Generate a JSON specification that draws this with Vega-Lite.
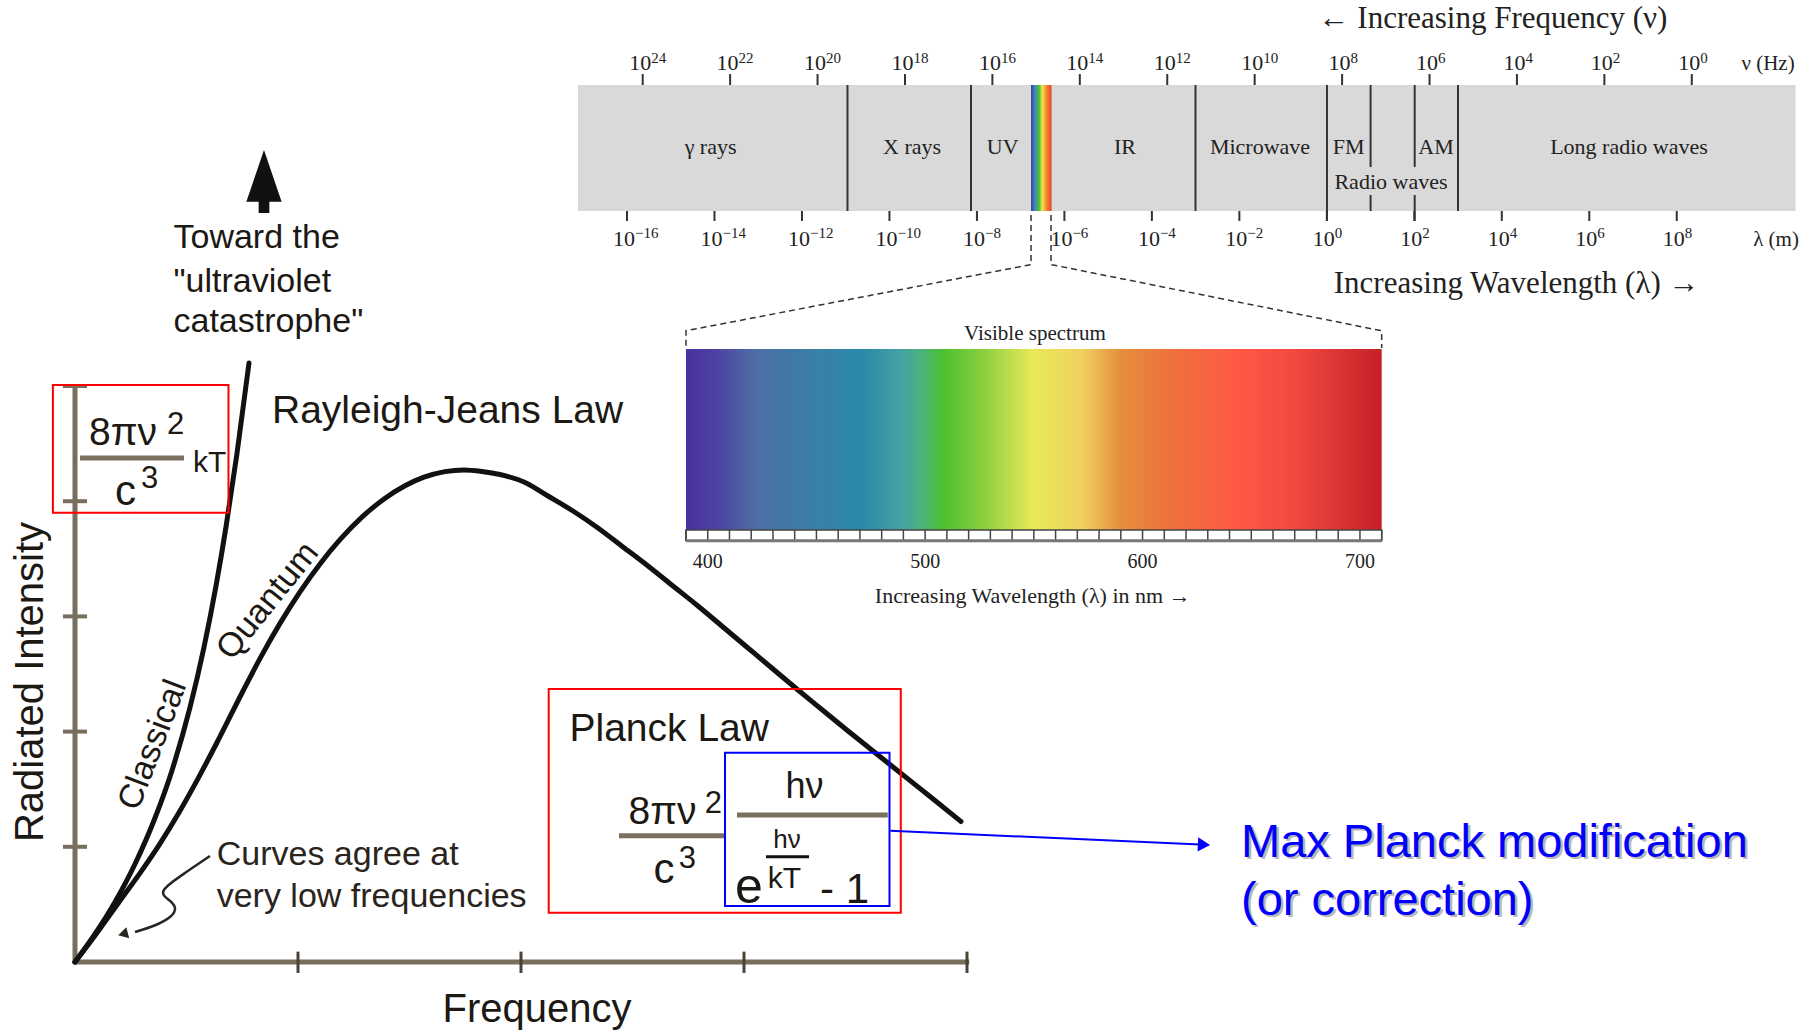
{
  "$schema": "https://vega.github.io/schema/vega-lite/v6.json",
  "width": 1820,
  "height": 1031,
  "autosize": {"type": "fit", "contains": "padding"},
  "padding": 0,
  "background": "white",
  "config": {"view": {"stroke": null}, "text": {"font": "Liberation Sans"}},
  "datasets": {
    "pAxes": [{"f": 0, "I": 0, "f2": 4.01, "I2": 0}, {"f": 0, "I": -0.02, "f2": 0, "I2": 5}],
    "pXTicks": [{"f": 1, "I": -0.095, "I2": 0.09}, {"f": 2, "I": -0.095, "I2": 0.09}, {"f": 3, "I": -0.095, "I2": 0.09}, {"f": 4, "I": -0.095, "I2": 0.09}],
    "pYTicks": [{"I": 1, "f": -0.054, "f2": 0.054}, {"I": 2, "f": -0.054, "f2": 0.054}, {"I": 3, "f": -0.054, "f2": 0.054}, {"I": 4, "f": -0.054, "f2": 0.054}, {"I": 5, "f": -0.054, "f2": 0.054}],
    "pCurves": [
      {"curve": "classical", "f": 0, "I": 0}, {"curve": "classical", "f": 0.0897, "I": 0.2431}, {"curve": "classical", "f": 0.1794, "I": 0.5208}, {"curve": "classical", "f": 0.2691, "I": 0.8507}, {"curve": "classical", "f": 0.3587, "I": 1.25}, {"curve": "classical", "f": 0.435, "I": 1.6632}, {"curve": "classical", "f": 0.5157, "I": 2.2101}, {"curve": "classical", "f": 0.5785, "I": 2.7326}, {"curve": "classical", "f": 0.6323, "I": 3.2639}, {"curve": "classical", "f": 0.6771, "I": 3.776}, {"curve": "classical", "f": 0.7265, "I": 4.4158}, {"curve": "classical", "f": 0.7803, "I": 5.1997},
      {"curve": "quantum", "f": 0, "I": 0}, {"curve": "quantum", "f": 0.1121, "I": 0.2891}, {"curve": "quantum", "f": 0.2018, "I": 0.5321}, {"curve": "quantum", "f": 0.2915, "I": 0.7717}, {"curve": "quantum", "f": 0.3812, "I": 1.0278}, {"curve": "quantum", "f": 0.4664, "I": 1.2977}, {"curve": "quantum", "f": 0.5516, "I": 1.592}, {"curve": "quantum", "f": 0.6368, "I": 1.9054}, {"curve": "quantum", "f": 0.7534, "I": 2.3524}, {"curve": "quantum", "f": 0.8386, "I": 2.6658}, {"curve": "quantum", "f": 0.9193, "I": 2.9392}, {"curve": "quantum", "f": 1.009, "I": 3.2135}, {"curve": "quantum", "f": 1.0987, "I": 3.4557}, {"curve": "quantum", "f": 1.1883, "I": 3.6658}, {"curve": "quantum", "f": 1.2915, "I": 3.8698}, {"curve": "quantum", "f": 1.3857, "I": 4.0191}, {"curve": "quantum", "f": 1.4798, "I": 4.1337}, {"curve": "quantum", "f": 1.565, "I": 4.2083}, {"curve": "quantum", "f": 1.6592, "I": 4.2569}, {"curve": "quantum", "f": 1.7444, "I": 4.2708}, {"curve": "quantum", "f": 1.8251, "I": 4.2578}, {"curve": "quantum", "f": 1.9058, "I": 4.2318}, {"curve": "quantum", "f": 2.0135, "I": 4.1667}, {"curve": "quantum", "f": 2.1211, "I": 4.0451}, {"curve": "quantum", "f": 2.2332, "I": 3.9149}, {"curve": "quantum", "f": 2.3453, "I": 3.7674}, {"curve": "quantum", "f": 2.4574, "I": 3.6024}, {"curve": "quantum", "f": 2.5695, "I": 3.4375}, {"curve": "quantum", "f": 2.6816, "I": 3.2639}, {"curve": "quantum", "f": 2.7937, "I": 3.0903}, {"curve": "quantum", "f": 2.9058, "I": 2.908}, {"curve": "quantum", "f": 3.0179, "I": 2.7257}, {"curve": "quantum", "f": 3.13, "I": 2.5434}, {"curve": "quantum", "f": 3.2422, "I": 2.3611}, {"curve": "quantum", "f": 3.3543, "I": 2.1832}, {"curve": "quantum", "f": 3.4664, "I": 2.0052}, {"curve": "quantum", "f": 3.5785, "I": 1.8316}, {"curve": "quantum", "f": 3.6906, "I": 1.658}, {"curve": "quantum", "f": 3.8341, "I": 1.4366}, {"curve": "quantum", "f": 3.9731, "I": 1.2196}
    ],
    "pRedBoxes": [{"f": -0.0991, "f2": 0.6883, "I": 5.0087, "I2": 3.9002}, {"f": 2.1242, "f2": 3.7031, "I": 2.3698, "I2": 0.428}],
    "pBlueBox": [{"f": 2.9148, "f2": 3.6525, "I": 1.8168, "I2": 0.4861}],
    "pFracLines": [{"f": 0.0224, "f2": 0.4888, "I": 4.375}, {"f": 2.4395, "f2": 2.9103, "I": 1.0964}, {"f": 2.9686, "f2": 3.6448, "I": 1.276}],
    "pSmallLine": [{"f": 3.0987, "f2": 3.2915, "I": 0.914}],
    "pArrowLine": [{"f": 3.6565, "I": 1.1398, "f2": 5.0448, "I2": 1.02}],
    "pArrowHead": [{"f": 5.0628, "I": 1.0182}],
    "pWiggle": [{"i": 0, "f": 0.6054, "I": 0.9201}, {"i": 1, "f": 0.4933, "I": 0.7726}, {"i": 2, "f": 0.3677, "I": 0.6076}, {"i": 3, "f": 0.426, "I": 0.5382}, {"i": 4, "f": 0.4574, "I": 0.4688}, {"i": 5, "f": 0.435, "I": 0.3906}, {"i": 6, "f": 0.3587, "I": 0.3125}, {"i": 7, "f": 0.2691, "I": 0.2604}],
    "pWiggleHead": [{"f": 0.2152, "I": 0.2431}],
    "pBigArrow": [{"f": 0.8475, "I": 6.7752}],
    "pText39": [{"f": 0.8834, "I": 4.6762, "t": "Rayleigh-Jeans Law"}, {"f": 2.2175, "I": 1.9184, "t": "Planck Law"}, {"f": 0.0628, "I": 4.4878, "t": "8πν"}, {"f": 2.482, "I": 1.1979, "t": "8πν"}],
    "pTextC": [{"f": 0.1794, "I": 3.967, "t": "c"}, {"f": 2.5946, "I": 0.686, "t": "c"}],
    "pText28": [{"f": 0.4126, "I": 4.5833, "t": "2"}, {"f": 0.296, "I": 4.1146, "t": "3"}, {"f": 2.8242, "I": 1.2934, "t": "2"}, {"f": 2.7076, "I": 0.816, "t": "3"}],
    "pText30": [{"f": 0.5291, "I": 4.2561, "t": "kT"}, {"f": 3.1063, "I": 0.6398, "t": "kT"}],
    "pTextUV": [{"f": 0.4417, "I": 6.1953, "t": "Toward the"}, {"f": 0.4417, "I": 5.8186, "t": "\"ultraviolet"}, {"f": 0.4417, "I": 5.4714, "t": "catastrophe\""}],
    "pTextAgree": [{"f": 0.6354, "I": 0.842, "t": "Curves agree at"}, {"f": 0.6354, "I": 0.4774, "t": "very low frequencies"}],
    "pClassical": [{"f": 0.3498, "I": 1.8837, "t": "Classical"}],
    "pQuantum": [{"f": 0.8655, "I": 3.1337, "t": "Quantum"}],
    "pRadiated": [{"f": -0.1973, "I": 2.4306, "t": "Radiated Intensity"}],
    "pFrequency": [{"f": 2.0717, "I": -0.5182, "t": "Frequency"}],
    "pHv": [{"f": 3.2713, "I": 1.4236, "t": "hν"}],
    "pHvSmall": [{"f": 3.1928, "I": 0.9896, "t": "hν"}],
    "pE": [{"f": 2.9596, "I": 0.5148, "t": "e"}],
    "pMinusOne": [{"f": 3.3408, "I": 0.5148, "t": "- 1"}],
    "pMax": [{"f": 5.2287, "I": 0.9141, "t": "Max Planck modification"}, {"f": 5.2287, "I": 0.408, "t": "(or correction)"}],
    "nuBand": [{"e": 25.48, "e2": -2.373, "y": 0, "y2": 1}],
    "nuStrip": [{"e": 15.117, "e2": 14.646, "y": 0, "y2": 1}],
    "nuSeps": [{"e": 19.315, "y": 0, "y2": 1}, {"e": 16.489, "y": 0, "y2": 1}, {"e": 11.354, "y": 0, "y2": 1}, {"e": 8.346, "y": -0.079, "y2": 1}, {"e": 7.348, "y": 0.349, "y2": 1}, {"e": 7.348, "y": 0, "y2": 0.127}, {"e": 6.339, "y": 0.349, "y2": 1}, {"e": 6.339, "y": -0.079, "y2": 0.127}, {"e": 5.348, "y": 0, "y2": 1}],
    "nuTicks": [{"e": 24, "y": 1, "y2": 1.087, "sup": "24"}, {"e": 22, "y": 1, "y2": 1.087, "sup": "22"}, {"e": 20, "y": 1, "y2": 1.087, "sup": "20"}, {"e": 18, "y": 1, "y2": 1.087, "sup": "18"}, {"e": 16, "y": 1, "y2": 1.087, "sup": "16"}, {"e": 14, "y": 1, "y2": 1.087, "sup": "14"}, {"e": 12, "y": 1, "y2": 1.087, "sup": "12"}, {"e": 10, "y": 1, "y2": 1.087, "sup": "10"}, {"e": 8, "y": 1, "y2": 1.087, "sup": "8"}, {"e": 6, "y": 1, "y2": 1.087, "sup": "6"}, {"e": 4, "y": 1, "y2": 1.087, "sup": "4"}, {"e": 2, "y": 1, "y2": 1.087, "sup": "2"}, {"e": 0, "y": 1, "y2": 1.087, "sup": "0"}],
    "nuBandLabels": [{"e": 22.447, "y": 0.508, "t": "γ rays"}, {"e": 17.839, "y": 0.508, "t": "X rays"}, {"e": 15.764, "y": 0.508, "t": "UV"}, {"e": 12.967, "y": 0.508, "t": "IR"}, {"e": 9.878, "y": 0.508, "t": "Microwave"}, {"e": 7.851, "y": 0.508, "t": "FM"}, {"e": 5.852, "y": 0.508, "t": "AM"}, {"e": 6.882, "y": 0.23, "t": "Radio waves"}, {"e": 1.437, "y": 0.508, "t": "Long radio waves"}],
    "nuUnit": [{"e": -1.744, "y": 1.119, "t": "ν (Hz)"}],
    "nuTitle": [{"e": 4.548, "y": 1.45, "t": "← Increasing Frequency (ν)"}],
    "lamTicks": [{"le": -16, "y": 0, "y2": -0.079, "sup": "−16"}, {"le": -14, "y": 0, "y2": -0.079, "sup": "−14"}, {"le": -12, "y": 0, "y2": -0.079, "sup": "−12"}, {"le": -10, "y": 0, "y2": -0.079, "sup": "−10"}, {"le": -8, "y": 0, "y2": -0.079, "sup": "−8"}, {"le": -6, "y": 0, "y2": -0.079, "sup": "−6"}, {"le": -4, "y": 0, "y2": -0.079, "sup": "−4"}, {"le": -2, "y": 0, "y2": -0.079, "sup": "−2"}, {"le": 0, "y": 0, "y2": -0.079, "sup": "0"}, {"le": 2, "y": 0, "y2": -0.079, "sup": "2"}, {"le": 4, "y": 0, "y2": -0.079, "sup": "4"}, {"le": 6, "y": 0, "y2": -0.079, "sup": "6"}, {"le": 8, "y": 0, "y2": -0.079, "sup": "8"}],
    "lamUnit": [{"le": 10.27, "y": -0.278, "t": "λ (m)"}],
    "lamTitle": [{"le": 4.34, "y": -0.648, "t": "Increasing Wavelength (λ) →"}],
    "visRect": [{"nm": 390, "nm2": 710, "v": 0, "v2": 1}],
    "visStrip": [{"nm": 390, "nm2": 710, "v": -0.059, "v2": 0}],
    "visCells": [{"nm": 390, "v": -0.059, "v2": 0}, {"nm": 400, "v": -0.059, "v2": 0}, {"nm": 410, "v": -0.059, "v2": 0}, {"nm": 420, "v": -0.059, "v2": 0}, {"nm": 430, "v": -0.059, "v2": 0}, {"nm": 440, "v": -0.059, "v2": 0}, {"nm": 450, "v": -0.059, "v2": 0}, {"nm": 460, "v": -0.059, "v2": 0}, {"nm": 470, "v": -0.059, "v2": 0}, {"nm": 480, "v": -0.059, "v2": 0}, {"nm": 490, "v": -0.059, "v2": 0}, {"nm": 500, "v": -0.059, "v2": 0}, {"nm": 510, "v": -0.059, "v2": 0}, {"nm": 520, "v": -0.059, "v2": 0}, {"nm": 530, "v": -0.059, "v2": 0}, {"nm": 540, "v": -0.059, "v2": 0}, {"nm": 550, "v": -0.059, "v2": 0}, {"nm": 560, "v": -0.059, "v2": 0}, {"nm": 570, "v": -0.059, "v2": 0}, {"nm": 580, "v": -0.059, "v2": 0}, {"nm": 590, "v": -0.059, "v2": 0}, {"nm": 600, "v": -0.059, "v2": 0}, {"nm": 610, "v": -0.059, "v2": 0}, {"nm": 620, "v": -0.059, "v2": 0}, {"nm": 630, "v": -0.059, "v2": 0}, {"nm": 640, "v": -0.059, "v2": 0}, {"nm": 650, "v": -0.059, "v2": 0}, {"nm": 660, "v": -0.059, "v2": 0}, {"nm": 670, "v": -0.059, "v2": 0}, {"nm": 680, "v": -0.059, "v2": 0}, {"nm": 690, "v": -0.059, "v2": 0}, {"nm": 700, "v": -0.059, "v2": 0}, {"nm": 710, "v": -0.059, "v2": 0}],
    "visBottom": [{"nm": 390, "nm2": 710, "v": -0.059}],
    "visLabels": [{"nm": 400, "v": -0.21, "t": "400"}, {"nm": 500, "v": -0.21, "t": "500"}, {"nm": 600, "v": -0.21, "t": "600"}, {"nm": 700, "v": -0.21, "t": "700"}],
    "visTitle": [{"nm": 550.5, "v": 1.0497, "t": "Visible spectrum"}],
    "visAxisTitle": [{"nm": 549.5, "v": -0.405, "t": "Increasing Wavelength (λ) in nm →"}],
    "visDash": [{"side": "left", "i": 0, "nm": 548.7, "v": 1.7403}, {"side": "left", "i": 1, "nm": 548.7, "v": 1.4663}, {"side": "left", "i": 2, "nm": 390, "v": 1.1006}, {"side": "left", "i": 3, "nm": 390, "v": 1.0055}, {"side": "right", "i": 0, "nm": 557.9, "v": 1.7403}, {"side": "right", "i": 1, "nm": 557.9, "v": 1.4663}, {"side": "right", "i": 2, "nm": 710, "v": 1.1006}, {"side": "right", "i": 3, "nm": 710, "v": 1.0055}]
  },
  "resolve": {"scale": {"x": "independent", "y": "independent"}},
  "layer": [
    {
      "encoding": {
        "x": {"field": "nm", "type": "quantitative", "scale": {"domain": [74.47, 911.6], "nice": false, "zero": false}, "axis": null},
        "y": {"field": "v", "type": "quantitative", "scale": {"domain": [-2.768, 2.928], "nice": false, "zero": false}, "axis": null}
      },
      "layer": [
        {"data": {"name": "visDash"}, "mark": {"type": "line", "color": "#333333", "strokeWidth": 1.5, "strokeDash": [6, 4]}, "encoding": {"detail": {"field": "side"}, "order": {"field": "i", "type": "quantitative"}}},
        {"data": {"name": "visRect"}, "mark": {"type": "rect", "fill": {"gradient": "linear", "x1": 0, "y1": 0, "x2": 1, "y2": 0, "stops": [
          {"offset": 0, "color": "#4a2fa0"}, {"offset": 0.05, "color": "#4d46a2"}, {"offset": 0.1, "color": "#4d6ea5"}, {"offset": 0.18, "color": "#3a7fa6"}, {"offset": 0.25, "color": "#2a88a8"}, {"offset": 0.31, "color": "#46a2a4"}, {"offset": 0.34, "color": "#4db27a"}, {"offset": 0.37, "color": "#4cc030"}, {"offset": 0.43, "color": "#8fd040"}, {"offset": 0.5, "color": "#e9e958"}, {"offset": 0.57, "color": "#f0d060"}, {"offset": 0.625, "color": "#e58e3c"}, {"offset": 0.7, "color": "#ef6f3e"}, {"offset": 0.79, "color": "#ff5a45"}, {"offset": 0.88, "color": "#f04840"}, {"offset": 1, "color": "#c42028"}]}},
          "encoding": {"x2": {"field": "nm2"}, "y2": {"field": "v2"}}},
        {"data": {"name": "visStrip"}, "mark": {"type": "rect", "fill": "white", "stroke": "#444444", "strokeWidth": 1.5}, "encoding": {"x2": {"field": "nm2"}, "y2": {"field": "v2"}}},
        {"data": {"name": "visCells"}, "mark": {"type": "rule", "color": "#444444", "strokeWidth": 1.5}, "encoding": {"y2": {"field": "v2"}}},
        {"data": {"name": "visBottom"}, "mark": {"type": "rule", "color": "#777777", "strokeWidth": 3}, "encoding": {"x2": {"field": "nm2"}}},
        {"data": {"name": "visLabels"}, "mark": {"type": "text", "font": "Liberation Serif", "fontSize": 20, "align": "center", "baseline": "alphabetic", "color": "#222222"}, "encoding": {"text": {"field": "t", "type": "nominal"}}},
        {"data": {"name": "visTitle"}, "mark": {"type": "text", "font": "Liberation Serif", "fontSize": 21, "align": "center", "baseline": "alphabetic", "color": "#222222"}, "encoding": {"text": {"field": "t", "type": "nominal"}}},
        {"data": {"name": "visAxisTitle"}, "mark": {"type": "text", "font": "Liberation Serif", "fontSize": 22, "align": "center", "baseline": "alphabetic", "color": "#222222"}, "encoding": {"text": {"field": "t", "type": "nominal"}}}
      ]
    },
    {
      "encoding": {
        "x": {"field": "e", "type": "quantitative", "scale": {"domain": [38.703, -2.933], "nice": false, "zero": false}, "axis": null},
        "y": {"field": "y", "type": "quantitative", "scale": {"domain": [-6.508, 1.6746], "nice": false, "zero": false}, "axis": null}
      },
      "layer": [
        {"data": {"name": "nuBand"}, "mark": {"type": "rect", "fill": "#d9d9d9"}, "encoding": {"x2": {"field": "e2"}, "y2": {"field": "y2"}}},
        {"data": {"name": "nuStrip"}, "mark": {"type": "rect", "fill": {"gradient": "linear", "x1": 0, "y1": 0, "x2": 1, "y2": 0, "stops": [
          {"offset": 0, "color": "#4b3aa0"}, {"offset": 0.2, "color": "#3a8cc0"}, {"offset": 0.4, "color": "#4cc030"}, {"offset": 0.55, "color": "#f0e850"}, {"offset": 0.75, "color": "#f08a30"}, {"offset": 1, "color": "#e8402a"}]}},
          "encoding": {"x2": {"field": "e2"}, "y2": {"field": "y2"}}},
        {"data": {"name": "nuSeps"}, "mark": {"type": "rule", "color": "#333333", "strokeWidth": 2}, "encoding": {"y2": {"field": "y2"}}},
        {"data": {"name": "nuTicks"}, "mark": {"type": "rule", "color": "#333333", "strokeWidth": 2}, "encoding": {"y2": {"field": "y2"}}},
        {"data": {"name": "nuTicks"}, "mark": {"type": "text", "text": "10", "font": "Liberation Serif", "fontSize": 22, "align": "right", "baseline": "alphabetic", "dx": 8.5, "dy": -15, "color": "#222222"}},
        {"data": {"name": "nuTicks"}, "mark": {"type": "text", "font": "Liberation Serif", "fontSize": 15, "align": "left", "baseline": "alphabetic", "dx": 8.5, "dy": -22, "color": "#222222"}, "encoding": {"text": {"field": "sup", "type": "nominal"}}},
        {"data": {"name": "nuBandLabels"}, "mark": {"type": "text", "font": "Liberation Serif", "fontSize": 22, "align": "center", "baseline": "middle", "color": "#222222"}, "encoding": {"text": {"field": "t", "type": "nominal"}}},
        {"data": {"name": "nuUnit"}, "mark": {"type": "text", "font": "Liberation Serif", "fontSize": 21, "align": "center", "baseline": "alphabetic", "color": "#222222"}, "encoding": {"text": {"field": "t", "type": "nominal"}}},
        {"data": {"name": "nuTitle"}, "mark": {"type": "text", "font": "Liberation Serif", "fontSize": 31, "align": "center", "baseline": "alphabetic", "color": "#222222"}, "encoding": {"text": {"field": "t", "type": "nominal"}}}
      ]
    },
    {
      "encoding": {
        "x": {"field": "le", "type": "quantitative", "scale": {"domain": [-30.335, 11.275], "nice": false, "zero": false}, "axis": null},
        "y": {"field": "y", "type": "quantitative", "scale": {"domain": [-6.508, 1.6746], "nice": false, "zero": false}, "axis": null}
      },
      "layer": [
        {"data": {"name": "lamTicks"}, "mark": {"type": "rule", "color": "#333333", "strokeWidth": 2}, "encoding": {"y2": {"field": "y2"}}},
        {"data": {"name": "lamTicks"}, "mark": {"type": "text", "text": "10", "font": "Liberation Serif", "fontSize": 22, "align": "right", "baseline": "alphabetic", "dx": 8, "dy": 35, "color": "#222222"}},
        {"data": {"name": "lamTicks"}, "mark": {"type": "text", "font": "Liberation Serif", "fontSize": 15, "align": "left", "baseline": "alphabetic", "dx": 8, "dy": 27, "color": "#222222"}, "encoding": {"text": {"field": "sup", "type": "nominal"}}},
        {"data": {"name": "lamUnit"}, "mark": {"type": "text", "font": "Liberation Serif", "fontSize": 21, "align": "center", "baseline": "alphabetic", "color": "#222222"}, "encoding": {"text": {"field": "t", "type": "nominal"}}},
        {"data": {"name": "lamTitle"}, "mark": {"type": "text", "font": "Liberation Serif", "fontSize": 31, "align": "center", "baseline": "alphabetic", "color": "#222222"}, "encoding": {"text": {"field": "t", "type": "nominal"}}}
      ]
    },
    {
      "encoding": {
        "x": {"field": "f", "type": "quantitative", "scale": {"domain": [-0.3363, 7.8251], "nice": false, "zero": false}, "axis": null},
        "y": {"field": "I", "type": "quantitative", "scale": {"domain": [-0.599, 8.3507], "nice": false, "zero": false}, "axis": null}
      },
      "layer": [
        {"data": {"name": "pAxes"}, "mark": {"type": "rule", "color": "#776e5e", "strokeWidth": 5}, "encoding": {"x2": {"field": "f2"}, "y2": {"field": "I2"}}},
        {"data": {"name": "pXTicks"}, "mark": {"type": "rule", "color": "#4a4236", "strokeWidth": 3}, "encoding": {"y2": {"field": "I2"}}},
        {"data": {"name": "pYTicks"}, "mark": {"type": "rule", "color": "#776e5e", "strokeWidth": 4}, "encoding": {"x2": {"field": "f2"}}},
        {"data": {"name": "pCurves"}, "mark": {"type": "line", "color": "#111111", "strokeWidth": 5, "strokeCap": "round", "strokeJoin": "round", "interpolate": "monotone"}, "encoding": {"detail": {"field": "curve"}}},
        {"data": {"name": "pRedBoxes"}, "mark": {"type": "rect", "filled": false, "color": "#ff0000", "strokeWidth": 2}, "encoding": {"x2": {"field": "f2"}, "y2": {"field": "I2"}}},
        {"data": {"name": "pFracLines"}, "mark": {"type": "rule", "color": "#7a705e", "strokeWidth": 5}, "encoding": {"x2": {"field": "f2"}}},
        {"data": {"name": "pSmallLine"}, "mark": {"type": "rule", "color": "#111111", "strokeWidth": 3}, "encoding": {"x2": {"field": "f2"}}},
        {"data": {"name": "pBlueBox"}, "mark": {"type": "rect", "filled": false, "color": "#0000ff", "strokeWidth": 2}, "encoding": {"x2": {"field": "f2"}, "y2": {"field": "I2"}}},
        {"data": {"name": "pArrowLine"}, "mark": {"type": "rule", "color": "#0000ff", "strokeWidth": 2}, "encoding": {"x2": {"field": "f2"}, "y2": {"field": "I2"}}},
        {"data": {"name": "pArrowHead"}, "mark": {"type": "point", "shape": "triangle-right", "filled": true, "color": "#0000ff", "size": 200, "opacity": 1, "angle": 2.6}},
        {"data": {"name": "pWiggle"}, "mark": {"type": "line", "color": "#2a2520", "strokeWidth": 2.5, "interpolate": "basis"}, "encoding": {"order": {"field": "i", "type": "quantitative"}}},
        {"data": {"name": "pWiggleHead"}, "mark": {"type": "point", "shape": "triangle-left", "filled": true, "color": "#2a2520", "size": 130, "opacity": 1, "angle": -15}},
        {"data": {"name": "pBigArrow"}, "mark": {"type": "point", "shape": "M0,-1L0.56,0.64L0.17,0.64L0.17,1L-0.17,1L-0.17,0.64L-0.56,0.64Z", "filled": true, "color": "#111111", "size": 3969, "opacity": 1}},
        {"data": {"name": "pText39"}, "mark": {"type": "text", "fontSize": 39, "align": "left", "baseline": "alphabetic", "color": "#1c1814"}, "encoding": {"text": {"field": "t", "type": "nominal"}}},
        {"data": {"name": "pTextC"}, "mark": {"type": "text", "fontSize": 42, "align": "left", "baseline": "alphabetic", "color": "#1c1814"}, "encoding": {"text": {"field": "t", "type": "nominal"}}},
        {"data": {"name": "pText28"}, "mark": {"type": "text", "fontSize": 31, "align": "left", "baseline": "alphabetic", "color": "#1c1814"}, "encoding": {"text": {"field": "t", "type": "nominal"}}},
        {"data": {"name": "pText30"}, "mark": {"type": "text", "fontSize": 30, "align": "left", "baseline": "alphabetic", "color": "#1c1814"}, "encoding": {"text": {"field": "t", "type": "nominal"}}},
        {"data": {"name": "pTextUV"}, "mark": {"type": "text", "fontSize": 34, "align": "left", "baseline": "alphabetic", "color": "#1c1814"}, "encoding": {"text": {"field": "t", "type": "nominal"}}},
        {"data": {"name": "pTextAgree"}, "mark": {"type": "text", "fontSize": 34, "align": "left", "baseline": "alphabetic", "color": "#2a241c"}, "encoding": {"text": {"field": "t", "type": "nominal"}}},
        {"data": {"name": "pClassical"}, "mark": {"type": "text", "fontSize": 34, "align": "center", "baseline": "middle", "angle": 291, "color": "#1c1814"}, "encoding": {"text": {"field": "t", "type": "nominal"}}},
        {"data": {"name": "pQuantum"}, "mark": {"type": "text", "fontSize": 34, "align": "center", "baseline": "middle", "angle": 309, "color": "#1c1814"}, "encoding": {"text": {"field": "t", "type": "nominal"}}},
        {"data": {"name": "pRadiated"}, "mark": {"type": "text", "fontSize": 40, "align": "center", "baseline": "middle", "angle": 270, "color": "#1c1814"}, "encoding": {"text": {"field": "t", "type": "nominal"}}},
        {"data": {"name": "pFrequency"}, "mark": {"type": "text", "fontSize": 40, "align": "center", "baseline": "alphabetic", "color": "#1c1814"}, "encoding": {"text": {"field": "t", "type": "nominal"}}},
        {"data": {"name": "pHv"}, "mark": {"type": "text", "fontSize": 36, "align": "center", "baseline": "alphabetic", "color": "#1c1814"}, "encoding": {"text": {"field": "t", "type": "nominal"}}},
        {"data": {"name": "pHvSmall"}, "mark": {"type": "text", "fontSize": 26, "align": "center", "baseline": "alphabetic", "color": "#1c1814"}, "encoding": {"text": {"field": "t", "type": "nominal"}}},
        {"data": {"name": "pE"}, "mark": {"type": "text", "fontSize": 50, "align": "left", "baseline": "alphabetic", "color": "#1c1814"}, "encoding": {"text": {"field": "t", "type": "nominal"}}},
        {"data": {"name": "pMinusOne"}, "mark": {"type": "text", "fontSize": 42, "align": "left", "baseline": "alphabetic", "color": "#1c1814"}, "encoding": {"text": {"field": "t", "type": "nominal"}}},
        {"data": {"name": "pMax"}, "mark": {"type": "text", "fontSize": 47, "align": "left", "baseline": "alphabetic", "color": "#b8b8b8", "dx": 2.5, "dy": 2.5}, "encoding": {"text": {"field": "t", "type": "nominal"}}},
        {"data": {"name": "pMax"}, "mark": {"type": "text", "fontSize": 47, "align": "left", "baseline": "alphabetic", "color": "#0000ff"}, "encoding": {"text": {"field": "t", "type": "nominal"}}}
      ]
    }
  ]
}
